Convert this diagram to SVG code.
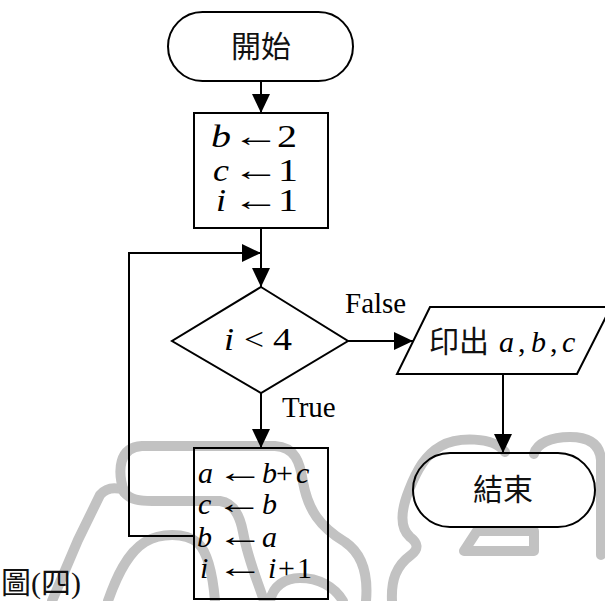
<svg xmlns="http://www.w3.org/2000/svg" width="605" height="601" viewBox="0 0 605 601">
  <defs>
    <marker id="arrow" viewBox="0 0 19 18" refX="19" refY="9" markerWidth="19" markerHeight="18" markerUnits="userSpaceOnUse" orient="auto">
      <path d="M0,0 L19,9 L0,18 Z" fill="#000"/>
    </marker>
    <style>
      .wm { fill: none; stroke: #c2c2c2; stroke-width: 10; stroke-linecap: round; stroke-linejoin: round; }
      .shape { fill: none; stroke: #000; stroke-width: 2; }
      .edge { fill: none; stroke: #000; stroke-width: 2; }
      .arr { marker-end: url(#arrow); }
      .cjk { font-family: "Liberation Serif", "Noto Sans CJK TC", serif; font-size: 30px; fill: #111; }
      .math { font-family: "Liberation Serif", serif; font-size: 30px; fill: #000; }
      .big { font-size: 32px; }
      .mid { font-size: 32px; }
      .v { font-style: italic; }
      .lbl { font-family: "Liberation Serif", serif; font-size: 29px; fill: #000; }
    </style>
  </defs>
  <rect width="605" height="601" fill="#fff"/>

  <!-- background watermark strokes -->
  <g id="watermark">
    <path class="wm" d="M52,601 L78,540 L100,495 C106,488 115,487 124,490"/>
    <path class="wm" d="M124,492 C117,470 119,447 142,446 L275,446 C295,447 300,462 303,482 C308,510 320,527 345,542 C364,555 368,578 366,601"/>
    <path class="wm" d="M124,492 C130,500 140,501 152,501 L220,501 C234,503 240,516 243,532 C248,560 258,582 264,601"/>
    <path class="wm" d="M108,601 C116,578 127,553 145,542 C160,533 185,532 198,543 C208,553 213,577 215,601"/>
    <path class="wm" d="M270,601 C273,586 285,578 300,578 C318,578 334,586 343,601"/>
    <path class="wm" d="M392,601 C391,580 396,566 411,555 C419,549 418,543 410,537 C399,527 401,510 409,490 C417,470 425,455 441,446 C457,437 493,436 505,452"/>
    <path class="wm" d="M534,454 C537,443 551,437 570,437 C590,437 600,445 601,460 L601,555"/>
    <path class="wm" d="M477,531 L534,531 L534,551 L464,551 Z"/>
  </g>

  <g id="connectors">
    <path class="edge arr" d="M261,81 V113"/>
    <path class="edge arr" d="M261,228 V287"/>
    <path class="edge arr" d="M261,393 V448"/>
    <path class="edge arr" d="M348,341 H413"/>
    <path class="edge arr" d="M503,374 V453"/>
    <path class="edge arr" d="M194,536 H129 V253 H261"/>
    <text class="lbl" x="345" y="313">False</text>
    <text class="lbl" x="282" y="417">True</text>
  </g>

  <g id="start">
    <rect class="shape" x="168" y="12" width="185" height="69" rx="34.5"/>
    <text class="cjk" x="261" y="57" text-anchor="middle">開始</text>
  </g>

  <g id="init">
    <rect class="shape" x="194" y="113" width="134" height="115"/>
    <text class="math big v" x="211" y="147" textLength="20" lengthAdjust="spacingAndGlyphs">b</text>
    <text class="math" transform="translate(232,146) scale(1.6,1)">←</text>
    <text class="math big" x="277" y="147" textLength="20" lengthAdjust="spacingAndGlyphs">2</text>
    <text class="math big v" x="213" y="181" textLength="16" lengthAdjust="spacingAndGlyphs">c</text>
    <text class="math" transform="translate(232,180) scale(1.6,1)">←</text>
    <text class="math big" x="278" y="181" textLength="20" lengthAdjust="spacingAndGlyphs">1</text>
    <text class="math big v" x="216" y="211" textLength="10" lengthAdjust="spacingAndGlyphs">i</text>
    <text class="math" transform="translate(232,210) scale(1.6,1)">←</text>
    <text class="math big" x="278" y="211" textLength="20" lengthAdjust="spacingAndGlyphs">1</text>
  </g>

  <g id="decision">
    <polygon class="shape" points="261,287 348,341 261,393 172,341"/>
    <text class="math mid v" x="224" y="350" textLength="10" lengthAdjust="spacingAndGlyphs">i</text>
    <text class="math mid" x="244" y="350" textLength="20" lengthAdjust="spacingAndGlyphs">&lt;</text>
    <text class="math mid" x="273" y="350" textLength="19" lengthAdjust="spacingAndGlyphs">4</text>
  </g>

  <g id="output">
    <polygon class="shape" points="430,307 611,307 577,374 397,374"/>
    <text class="cjk" x="429" y="352" font-size="28">印出</text>
    <text class="math" y="352"><tspan class="v" x="499">a</tspan><tspan x="518">,</tspan><tspan class="v" x="531">b</tspan><tspan x="550">,</tspan><tspan class="v" x="562">c</tspan></text>
  </g>

  <g id="process">
    <rect class="shape" x="194" y="448" width="134" height="151"/>
    <text class="math" y="483"><tspan class="v" x="198">a</tspan><tspan class="v" x="262">b</tspan><tspan x="276">+</tspan><tspan class="v" x="296">c</tspan></text>
    <text class="math" transform="translate(216.3,482) scale(1.6,1)">←</text>
    <text class="math" y="514"><tspan class="v" x="198">c</tspan><tspan class="v" x="262">b</tspan></text>
    <text class="math" transform="translate(215.3,513) scale(1.6,1)">←</text>
    <text class="math" y="547"><tspan class="v" x="197">b</tspan><tspan class="v" x="262">a</tspan></text>
    <text class="math" transform="translate(216.3,546) scale(1.6,1)">←</text>
    <text class="math" y="578"><tspan class="v" x="200">i</tspan><tspan class="v" x="268">i</tspan><tspan x="278">+</tspan><tspan x="297">1</tspan></text>
    <text class="math" transform="translate(216.3,577) scale(1.6,1)">←</text>
  </g>

  <g id="end">
    <rect class="shape" x="413" y="453" width="182" height="74" rx="37"/>
    <text class="cjk" x="503" y="500" text-anchor="middle">結束</text>
  </g>

  <g id="caption">
    <text class="cjk" x="1" y="593" font-size="25">圖(四)</text>
  </g>
</svg>
